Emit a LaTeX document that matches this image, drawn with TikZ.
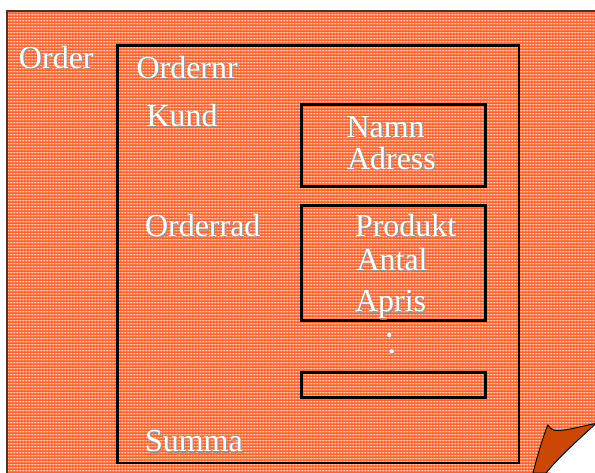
\documentclass[tikz,border=0pt]{standalone}
\usepackage{fontspec}
\usetikzlibrary{patterns.meta}
\setmainfont{Liberation Serif}
\newfontfamily\labelface{Liberation Serif}
\definecolor{pagefill}{RGB}{255,98,44}
\definecolor{dotfill}{RGB}{255,205,175}
\definecolor{pageedge}{RGB}{80,50,35}
\definecolor{curlfill}{RGB}{204,70,5}
\definecolor{shadowgray}{RGB}{150,150,150}
% fine light dot grid for the sheet's texture
\pgfdeclarepattern{
  name=sheetdots,
  type=colored,
  bottom left={\pgfpoint{0pt}{0pt}},
  top right={\pgfpoint{3pt}{2.8pt}},
  tile size={\pgfpoint{3pt}{2.8pt}},
  code={
    \pgfsetfillcolor{dotfill}
    \pgfpathrectangle{\pgfpoint{0.9pt}{0.8pt}}{\pgfpoint{1.2pt}{1.2pt}}
    \pgfusepath{fill}
  }
}
\tikzset{
  lbl/.style={anchor=base west, inner sep=0pt, outer sep=0pt,
    font=\labelface\fontsize{32}{38}\selectfont},
  framebox/.style={draw=black, line width=2.7pt},
  curl/.style={fill=curlfill, draw=black, line width=0.9pt, line join=round},
}
% white label with a soft grey drop shadow
\newcommand\shlabel[3]{%
  \node[lbl, text=shadowgray, xshift=1.4pt, yshift=-1.4pt] at (#2) {#3};
  \node[lbl, text=white] (#1) at (#2) {#3};}
\begin{document}
\begin{tikzpicture}[x=1pt, y=-1pt]
\useasboundingbox (0,0) rectangle (595,472);
\fill[white] (0,0) rectangle (595,472);

% the sheet
\fill[pagefill] (7,11) rectangle (600,480);
\fill[pattern=sheetdots] (7,11) rectangle (600,480);
\draw[pageedge, line width=1.6pt] (7,480) -- (7,11) -- (600,11);

% order frame and inner boxes
\draw[framebox] (117.5,45.5) rectangle (519,463);
\draw[framebox] (301.3,104.3) rectangle (485.7,186.7);
\draw[framebox] (301.3,205.3) rectangle (485.7,320.7);
\draw[framebox] (301.3,372.8) rectangle (485.5,397.3);

% labels
\shlabel{order}{19,68.3}{Order}
\shlabel{ordernr}{136.5,78.3}{Ordernr}
\shlabel{kund}{146.5,126}{Kund}
\shlabel{namn}{346.5,137.3}{Namn}
\shlabel{adress}{347,169}{Adress}
\shlabel{orderrad}{145,236.7}{Orderrad}
\shlabel{produkt}{355,236.7}{Produkt}
\shlabel{antal}{356.5,270}{Antal}
\shlabel{apris}{355,311.7}{Apris}
\shlabel{summa}{145,451.7}{Summa}

% ellipsis dots
\fill[shadowgray] (390.5,336.2) circle (2.1);
\fill[shadowgray] (392.9,352.5) circle (2.1);
\fill[white] (389.3,335) circle (2.1);
\fill[white] (391.7,351.3) circle (2.1);

% turned-up corner
\fill[white] (595,424) .. controls (578,440) and (560,456) .. (546,472) -- (600,480) -- (600,424) -- cycle;
\draw[curl] (547.7,425) .. controls (551,430) and (555,431) .. (560,430.5)
  .. controls (574,429) and (586,425) .. (596,423.5)
  .. controls (578,440) and (560,456) .. (546,473)
  -- (533,473)
  .. controls (537,457) and (542,440) .. (547.7,425) -- cycle;
\end{tikzpicture}
\end{document}
